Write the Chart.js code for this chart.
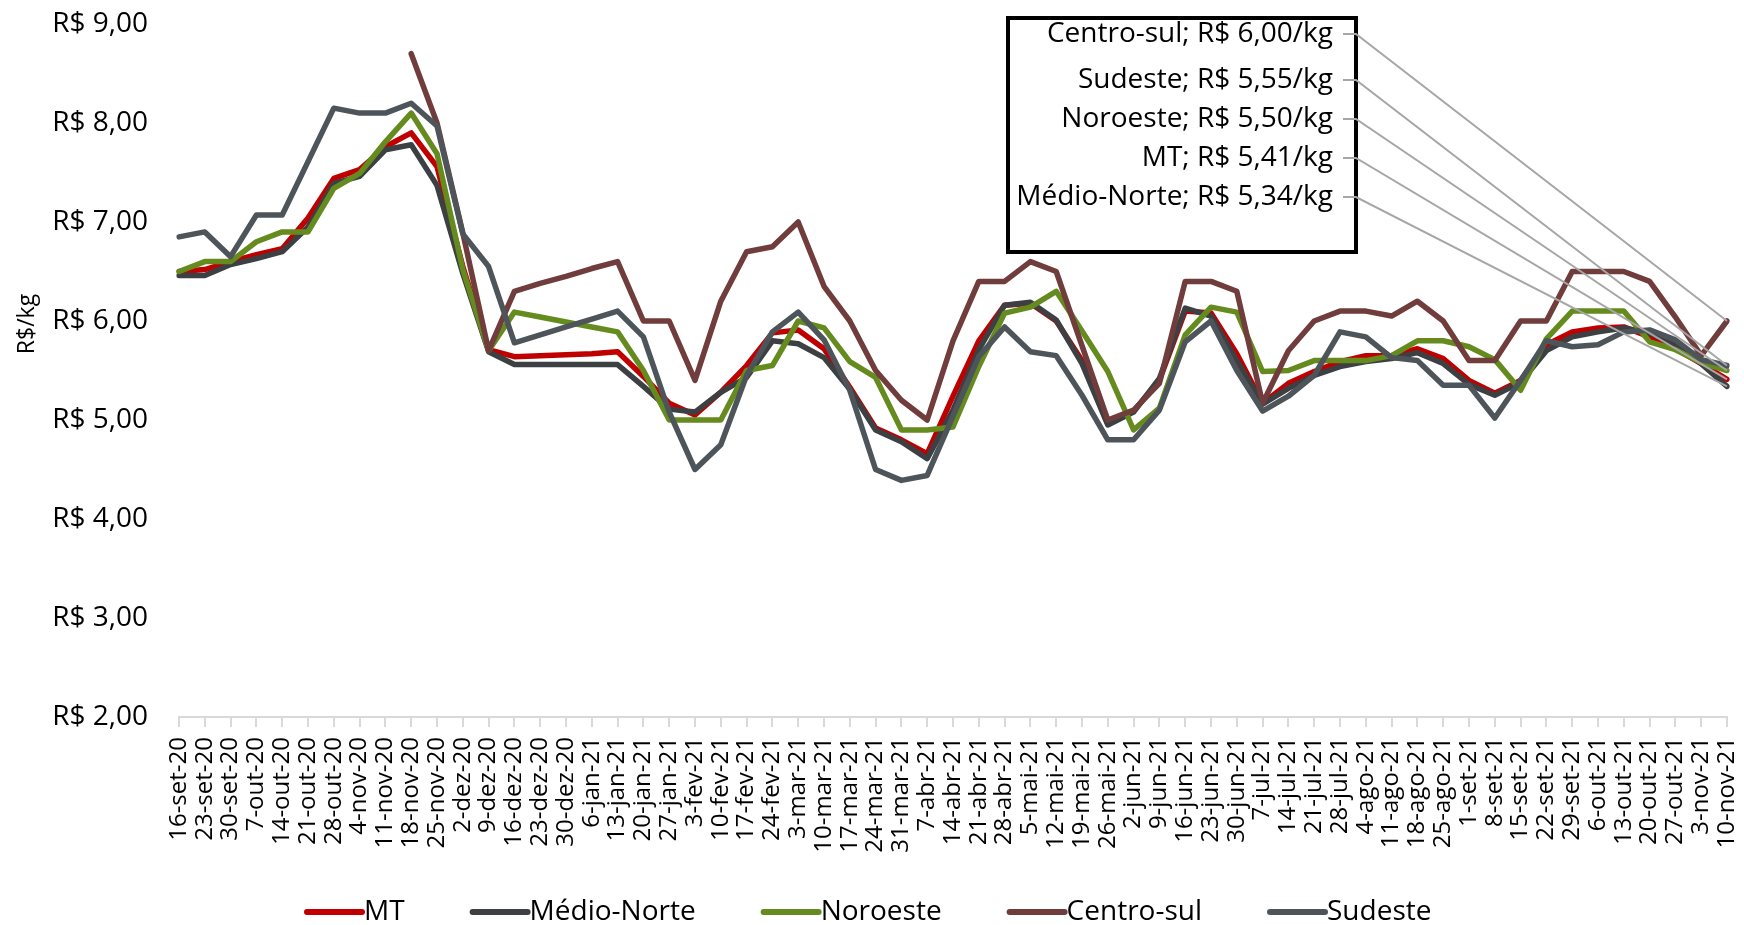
<!DOCTYPE html>
<html>
<head>
<meta charset="utf-8">
<script src="https://cdn.jsdelivr.net/npm/chart.js@4.4.0/dist/chart.umd.min.js"></script>
<style>
  html, body { margin: 0; padding: 0; background: #fff; }
  #wrap { width: 1744px; height: 925px; position: relative; }
</style>
</head>
<body>
<div id="wrap"><canvas id="precoChart"></canvas></div>
<script>
  // Semanas (eixo x)
  const semanas = [
    '16-set-20', '23-set-20', '30-set-20', '7-out-20', '14-out-20', '21-out-20', '28-out-20', '4-nov-20',
    '11-nov-20', '18-nov-20', '25-nov-20', '2-dez-20', '9-dez-20', '16-dez-20', '23-dez-20', '30-dez-20',
    '6-jan-21', '13-jan-21', '20-jan-21', '27-jan-21', '3-fev-21', '10-fev-21', '17-fev-21', '24-fev-21',
    '3-mar-21', '10-mar-21', '17-mar-21', '24-mar-21', '31-mar-21', '7-abr-21', '14-abr-21', '21-abr-21',
    '28-abr-21', '5-mai-21', '12-mai-21', '19-mai-21', '26-mai-21', '2-jun-21', '9-jun-21', '16-jun-21',
    '23-jun-21', '30-jun-21', '7-jul-21', '14-jul-21', '21-jul-21', '28-jul-21', '4-ago-21', '11-ago-21',
    '18-ago-21', '25-ago-21', '1-set-21', '8-set-21', '15-set-21', '22-set-21', '29-set-21', '6-out-21',
    '13-out-21', '20-out-21', '27-out-21', '3-nov-21', '10-nov-21'
  ];

  // Preços por região (R$/kg)
  const precoMT = [
    6.50, 6.52, 6.60, 6.67, 6.73, 7.04, 7.44, 7.53, 7.76, 7.90, 7.56, 6.55, 5.71, 5.64, 5.65, 5.66,
    5.67, 5.69, 5.44, 5.17, 5.05, 5.28, 5.55, 5.88, 5.91, 5.72, 5.33, 4.92, 4.80, 4.66, 5.24, 5.80,
    6.16, 6.18, 6.00, 5.60, 4.96, 5.09, 5.40, 6.10, 6.08, 5.67, 5.17, 5.37, 5.49, 5.59, 5.65, 5.65,
    5.72, 5.62, 5.40, 5.27, 5.40, 5.76, 5.89, 5.93, 5.94, 5.84, 5.72, 5.57, 5.41
  ];
  const precoMedioNorte = [
    6.46, 6.46, 6.57, 6.63, 6.70, 6.95, 7.39, 7.46, 7.73, 7.78, 7.37, 6.48, 5.69, 5.56, 5.56, 5.56,
    5.56, 5.56, 5.34, 5.11, 5.08, 5.28, 5.43, 5.80, 5.77, 5.63, 5.31, 4.90, 4.78, 4.61, 5.10, 5.71,
    6.16, 6.19, 6.01, 5.57, 4.95, 5.08, 5.42, 6.13, 6.05, 5.60, 5.16, 5.32, 5.45, 5.54, 5.59, 5.62,
    5.68, 5.57, 5.36, 5.25, 5.38, 5.70, 5.84, 5.89, 5.93, 5.88, 5.77, 5.57, 5.34
  ];
  const precoNoroeste = [
    6.50, 6.60, 6.60, 6.80, 6.90, 6.90, 7.34, 7.49, 7.81, 8.10, 7.69, 6.52, 5.70, 6.09, 6.04, 5.99,
    5.94, 5.89, 5.50, 5.00, 5.00, 5.00, 5.50, 5.55, 6.00, 5.93, 5.59, 5.43, 4.90, 4.90, 4.93, 5.54,
    6.08, 6.14, 6.30, 5.90, 5.49, 4.90, 5.12, 5.86, 6.14, 6.09, 5.49, 5.50, 5.60, 5.60, 5.60, 5.65,
    5.80, 5.80, 5.74, 5.61, 5.30, 5.82, 6.10, 6.10, 6.10, 5.79, 5.71, 5.58, 5.50
  ];
  const precoCentroSul = [
    null, null, null, null, null, null, null, null, null, 8.70, 8.00, 6.89, 5.70, 6.30, 6.38, 6.45,
    6.53, 6.60, 6.00, 6.00, 5.40, 6.20, 6.70, 6.75, 7.00, 6.35, 6.00, 5.50, 5.20, 5.00, 5.80, 6.40,
    6.40, 6.60, 6.50, 5.75, 5.00, 5.10, 5.37, 6.40, 6.40, 6.30, 5.17, 5.70, 6.00, 6.10, 6.10, 6.05,
    6.20, 6.00, 5.60, 5.60, 6.00, 6.00, 6.50, 6.50, 6.50, 6.40, 6.04, 5.65, 6.00
  ];
  const precoSudeste = [
    6.85, 6.90, 6.65, 7.07, 7.07, 7.61, 8.15, 8.10, 8.10, 8.20, 7.97, 6.88, 6.55, 5.78, 5.86, 5.94,
    6.02, 6.10, 5.84, 5.08, 4.50, 4.75, 5.45, 5.89, 6.09, 5.81, 5.30, 4.50, 4.39, 4.44, 5.04, 5.64,
    5.94, 5.69, 5.65, 5.25, 4.80, 4.80, 5.10, 5.79, 6.00, 5.50, 5.09, 5.24, 5.45, 5.89, 5.84, 5.63,
    5.60, 5.35, 5.35, 5.02, 5.40, 5.80, 5.74, 5.76, 5.89, 5.91, 5.81, 5.61, 5.55
  ];

  const regioes = ['MT', 'Médio-Norte', 'Noroeste', 'Centro-sul', 'Sudeste'];
  const cores = ['#c00000', '#3c4043', '#658b1e', '#703c3c', '#4d555a'];
  const series = [precoMT, precoMedioNorte, precoNoroeste, precoCentroSul, precoSudeste];

  const fonte = '"Open Sans", "Noto Sans", sans-serif';
  const formatarReal = v => 'R$ ' + v.toFixed(2).replace('.', ',');

  // Legenda embaixo (estilo Excel) e título do eixo y
  const legendaPlugin = {
    id: 'legenda',
    afterDraw(chart) {
      const ctx = chart.ctx;
      ctx.save();
      ctx.font = '28px ' + fonte;
      ctx.textBaseline = 'middle';
      ctx.textAlign = 'left';
      let x = 307;
      const y = 912;
      chart.data.datasets.forEach(ds => {
        ctx.strokeStyle = ds.borderColor;
        ctx.lineWidth = 6;
        ctx.lineCap = 'round';
        ctx.beginPath();
        ctx.moveTo(x, y);
        ctx.lineTo(x + 55, y);
        ctx.stroke();
        ctx.fillStyle = '#000';
        ctx.fillText(ds.label, x + 57, y);
        x += 57 + ctx.measureText(ds.label).width + 68;
      });

      // título "R$/kg"
      ctx.translate(27, 324);
      ctx.rotate(-Math.PI / 2);
      ctx.textAlign = 'center';
      ctx.font = '23px ' + fonte;
      ctx.fillText('R$/kg', 0, 0);
      ctx.restore();
    }
  };

  // Caixa com o último preço de cada região + linhas guia
  const linhasRotulo = [34, 80, 119, 158, 197];
  const rotulosPlugin = {
    id: 'rotulos',
    afterDatasetsDraw(chart) {
      const ctx = chart.ctx;
      const ultimo = semanas.length - 1;
      const itens = chart.data.datasets.map((ds, i) => ({
        nome: ds.label,
        valor: ds.data[ultimo],
        ponto: chart.getDatasetMeta(i).data[ultimo]
      })).sort((a, b) => b.valor - a.valor);

      ctx.save();
      ctx.fillStyle = '#fff';
      ctx.fillRect(1006, 16, 352, 238);
      ctx.lineWidth = 4;
      ctx.strokeStyle = '#000';
      ctx.strokeRect(1008, 18, 348, 234);

      ctx.font = '28px ' + fonte;
      ctx.textAlign = 'right';
      ctx.textBaseline = 'middle';
      itens.forEach((it, k) => {
        const y = linhasRotulo[k];
        ctx.fillStyle = '#000';
        ctx.fillText(it.nome + '; ' + formatarReal(it.valor) + '/kg', 1333, y);
        ctx.strokeStyle = '#a6a6a6';
        ctx.lineWidth = 2;
        ctx.beginPath();
        ctx.moveTo(1343, y);
        ctx.lineTo(1356, y);
        ctx.lineTo(it.ponto.x, it.ponto.y);
        ctx.stroke();
      });
      ctx.restore();
    }
  };

  new Chart(document.getElementById('precoChart'), {
    type: 'line',
    data: {
      labels: semanas,
      datasets: regioes.map((nome, i) => ({
        label: nome,
        data: series[i],
        borderColor: cores[i],
        backgroundColor: cores[i],
        borderWidth: 5.5,
        pointRadius: 0,
        tension: 0,
        fill: false,
        borderJoinStyle: 'round',
        borderCapStyle: 'round',
        order: regioes.length - i
      }))
    },
    options: {
      responsive: true,
      maintainAspectRatio: false,
      animation: false,
      layout: {
        padding: { left: 0, right: 17, top: 24, bottom: 0 }
      },
      plugins: {
        legend: { display: false },
        tooltip: { enabled: false }
      },
      scales: {
        x: {
          offset: false,
          grid: {
            display: true,
            drawOnChartArea: false,
            drawTicks: true,
            tickLength: 10,
            color: '#d9d9d9',
            lineWidth: 2
          },
          border: { display: true, color: '#d9d9d9', width: 2 },
          ticks: {
            autoSkip: false,
            maxRotation: 90,
            minRotation: 90,
            padding: 10,
            color: '#000',
            font: { family: fonte, size: 24 }
          },
          afterFit: scale => {
            scale.height = 208;
            scale.paddingLeft = 0;
            scale.paddingRight = 0;
          }
        },
        y: {
          min: 2,
          max: 9,
          grid: { display: false },
          border: { display: false },
          ticks: {
            stepSize: 1,
            padding: 23,
            color: '#000',
            font: { family: fonte, size: 28 },
            callback: v => formatarReal(v)
          },
          afterFit: scale => {
            scale.width = 179;
            scale.paddingTop = 0;
            scale.paddingBottom = 0;
          }
        }
      }
    },
    plugins: [rotulosPlugin, legendaPlugin]
  });
</script>
</body>
</html>
